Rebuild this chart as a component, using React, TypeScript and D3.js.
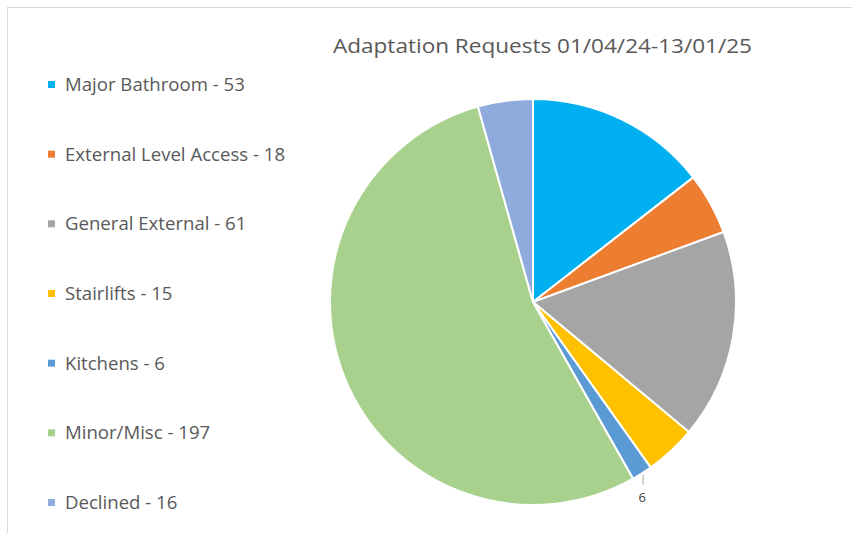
import React from "react";
import * as d3 from "d3";

const categories = ["Major Bathroom", "External Level Access", "General External", "Stairlifts", "Kitchens", "Minor/Misc", "Declined"];
const values = [53, 18, 61, 15, 6, 197, 16];
const colors = ["#00B0F0", "#ED7D31", "#A5A5A5", "#FFC000", "#5B9BD5", "#A9D18E", "#8FAADC"];
const title = "Adaptation Requests 01/04/24-13/01/25";

export default function App() {
  const W = 852, H = 533;
  const cx = 533, cy = 302, r = 203;
  const data = categories.map((c, i) => ({ c, v: values[i], col: colors[i] }));
  const pie = d3.pie<any>().value((d) => d.v).sort(null);
  const arcs = pie(data);
  const arc = d3.arc<any>().innerRadius(0).outerRadius(r);
  const legendY = d3.scalePoint<number>().domain(d3.range(categories.length)).range([85, 503]);
  const kitchen = arcs[4];
  const km = (kitchen.startAngle + kitchen.endAngle) / 2;
  const kx = cx + Math.sin(km) * (r + 4) - 1;
  const ky = cy - Math.cos(km) * (r + 4);
  return (
    <svg width={W} height={H} style={{ position: "absolute", left: 0, top: 0, fontFamily: "'Open Sans', sans-serif" }}>
      <rect x={0} y={0} width={W} height={H} fill="#fff" />
      <line x1={7} y1={7.5} x2={W} y2={7.5} stroke="#d9d9d9" strokeWidth={1} />
      <line x1={7.5} y1={7} x2={7.5} y2={H} stroke="#d9d9d9" strokeWidth={1} />
      <text x={542.5} y={53} textAnchor="middle" fontSize={20} fill="#595959" textLength={419} lengthAdjust="spacingAndGlyphs">{title}</text>
      <g transform={`translate(${cx},${cy})`}>
        {arcs.map((a, i) => (
          <path key={i} d={arc(a) as string} fill={data[i].col} stroke="#fff" strokeWidth={2} />
        ))}
      </g>
      <line x1={kx} y1={ky - 2} x2={kx} y2={ky + 8} stroke="#a6a6a6" strokeWidth={1} />
      <text x={kx - 1} y={ky + 25} textAnchor="middle" fontSize={13} fill="#404040">{values[4]}</text>
      {categories.map((c, i) => {
        const y = legendY(i) as number;
        const label = `${c} - ${values[i]}`;
        return (
          <g key={c}>
            <rect x={48} y={y - 4} width={7} height={7} fill={colors[i]} />
            <text x={65} y={y + 1} dominantBaseline="middle" fontSize={18.6} fill="#595959">{label}</text>
          </g>
        );
      })}
    </svg>
  );
}
